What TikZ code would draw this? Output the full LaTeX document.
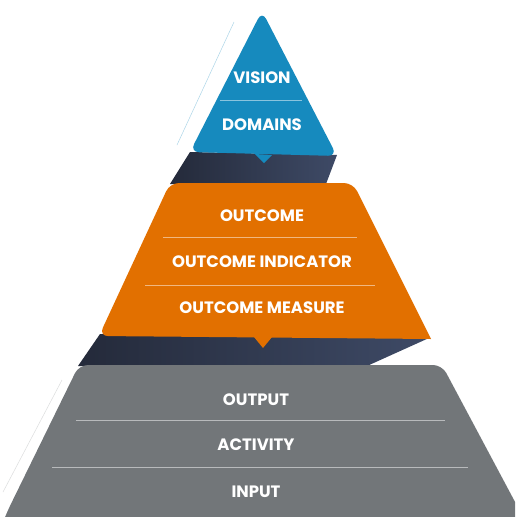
\documentclass[tikz,border=0pt]{standalone}
\usepackage{fontspec}
\setmainfont{Poppins}
\usetikzlibrary{positioning}

\definecolor{visionblue}{RGB}{22,138,190}
\definecolor{outcomeorange}{RGB}{226,112,0}
\definecolor{basegray}{RGB}{114,118,121}
\definecolor{bandnavy}{RGB}{62,74,102}
\definecolor{banddark}{RGB}{36,42,58}

\tikzset{
  tiertext/.style={text=white, inner sep=0pt, font=\bfseries\fontsize{16.5}{19}\selectfont},
  divider/.style={white, opacity=0.5, line width=0.8pt},
}

\begin{document}
\begin{tikzpicture}[x=1pt, y=-1pt]

    \clip (0,0) rectangle (515,517);
    \fill[white] (0,0) rectangle (515,517);

    % Dark bands between the tiers
    \shade[left color=banddark, right color=bandnavy]
        (190,152) -- (337,155) -- (326,184) -- (170,184) -- cycle;
    \shade[left color=banddark, right color=bandnavy]
        (100,334) -- (429,338) -- (367,366) -- (78,366) -- cycle;

    % Faint edge lines
    \draw[visionblue!35, line width=0.5pt] (234,22) -- (177,145);
    \draw[basegray!25, line width=0.5pt] (62,380) -- (3,492);

    % Vision tier
    \fill[visionblue, rounded corners=9pt]
        (262,11) -- (337,156) -- (190,152) -- cycle;
    \fill[visionblue] (255,154) -- (272,155) -- (264,163) -- cycle;
    \draw[divider] (220,100) -- (302,100);
    \node[tiertext] (vision) at (262,78) {VISION};
    \node[tiertext] (domains) at (262,125) {DOMAINS};

    % Outcome tier
    \fill[outcomeorange]
        (431,339) [rounded corners=9pt] -- (99,336) -- (170,183) -- (353,183)
        [sharp corners] -- cycle;
    \fill[outcomeorange] (254,337) -- (272,337) -- (263,348) -- cycle;
    \draw[divider] (163,237) -- (357,237);
    \draw[divider] (145,285) -- (375,285);
    \node[tiertext] (outcome) at (262,216) {OUTCOME};
    \node[tiertext] (indicator) at (262,262) {OUTCOME INDICATOR};
    \node[tiertext] (measure) at (262,308) {OUTCOME MEASURE};

    % Base tier
    \fill[basegray, rounded corners=9pt]
        (79,365) -- (442,365) -- (530,530) -- (0,530) -- (7,512) -- cycle;
    \draw[divider] (76,420) -- (445,420);
    \draw[divider] (52,467) -- (468,467);
    \node[tiertext] (output) at (256,400) {OUTPUT};
    \node[tiertext] (activity) at (256,445) {ACTIVITY};
    \node[tiertext] (input) at (256,492) {INPUT};

\end{tikzpicture}
\end{document}
